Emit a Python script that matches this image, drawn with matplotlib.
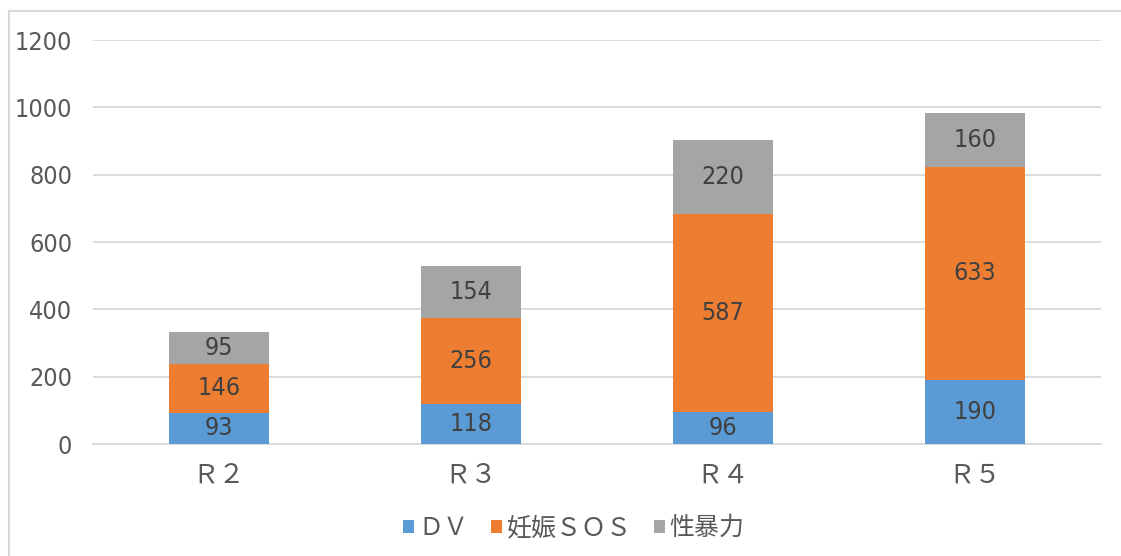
import matplotlib.pyplot as plt
from matplotlib.patches import Rectangle
import numpy as np

# --- dados ---
categorias = ["Ｒ２", "Ｒ３", "Ｒ４", "Ｒ５"]
series = ["ＤＶ", "妊娠ＳＯＳ", "性暴力"]
dv = [93, 118, 96, 190]
ninshin = [146, 256, 587, 633]
seibouryoku = [95, 154, 220, 160]
yticks = [0, 200, 400, 600, 800, 1000, 1200]
# -------------

cores = ["#5B9BD5", "#ED7D31", "#A5A5A5"]
texto = "#595959"
num_font = ["DejaVu Sans"]
cjk_font = ["Noto Sans CJK JP", "DejaVu Sans"]

fig = plt.figure(figsize=(11.21, 5.56), dpi=100)
ax = fig.add_axes([93 / 1121, 1 - 444 / 556, 1008 / 1121, 404 / 556])

# moldura do gráfico
fig.patches.append(Rectangle((9 / 1121, -0.1), 1.2, 1 - 11 / 556 + 0.1,
                             transform=fig.transFigure, fill=False,
                             edgecolor="#D9D9D9", linewidth=1.5))

x = np.arange(len(categorias))
base = np.zeros(len(categorias))
for nome, vals, cor in zip(series, [dv, ninshin, seibouryoku], cores):
    bars = ax.bar(x, vals, width=0.4, bottom=base, color=cor, label=nome, zorder=3)
    for b, v in zip(bars, vals):
        ax.text(b.get_x() + b.get_width() / 2, b.get_y() + v / 2, str(v),
                ha="center", va="center", fontsize=18, color="#404040",
                family=num_font, fontstretch="condensed", zorder=4)
    base += np.array(vals)

ax.set_xlim(-0.5, len(categorias) - 0.5)
ax.set_ylim(0, 1200)
ax.set_yticks(yticks)
ax.set_yticklabels([str(t) for t in yticks], family=num_font, fontsize=18,
                   fontstretch="condensed", color=texto)
ax.set_xticks(x)
ax.set_xticklabels(categorias, family=cjk_font, fontsize=19, color=texto)
ax.tick_params(axis="both", length=0)
ax.tick_params(axis="y", pad=15)
ax.tick_params(axis="x", pad=13)
ax.grid(axis="y", color="#D9D9D9", linewidth=1.3, zorder=0)
for s in ["top", "right", "left"]:
    ax.spines[s].set_visible(False)
ax.spines["bottom"].set_color("#D9D9D9")
ax.spines["bottom"].set_linewidth(1.3)

fig.legend(loc="center", bbox_to_anchor=(574 / 1121, 1 - 528 / 556), ncol=3,
           frameon=False, prop={"family": cjk_font, "size": 18},
           labelcolor=texto, handlelength=0.42, handleheight=0.42,
           handletextpad=0.2, columnspacing=0.9)

plt.savefig("out.png", dpi=100)
plt.close()
